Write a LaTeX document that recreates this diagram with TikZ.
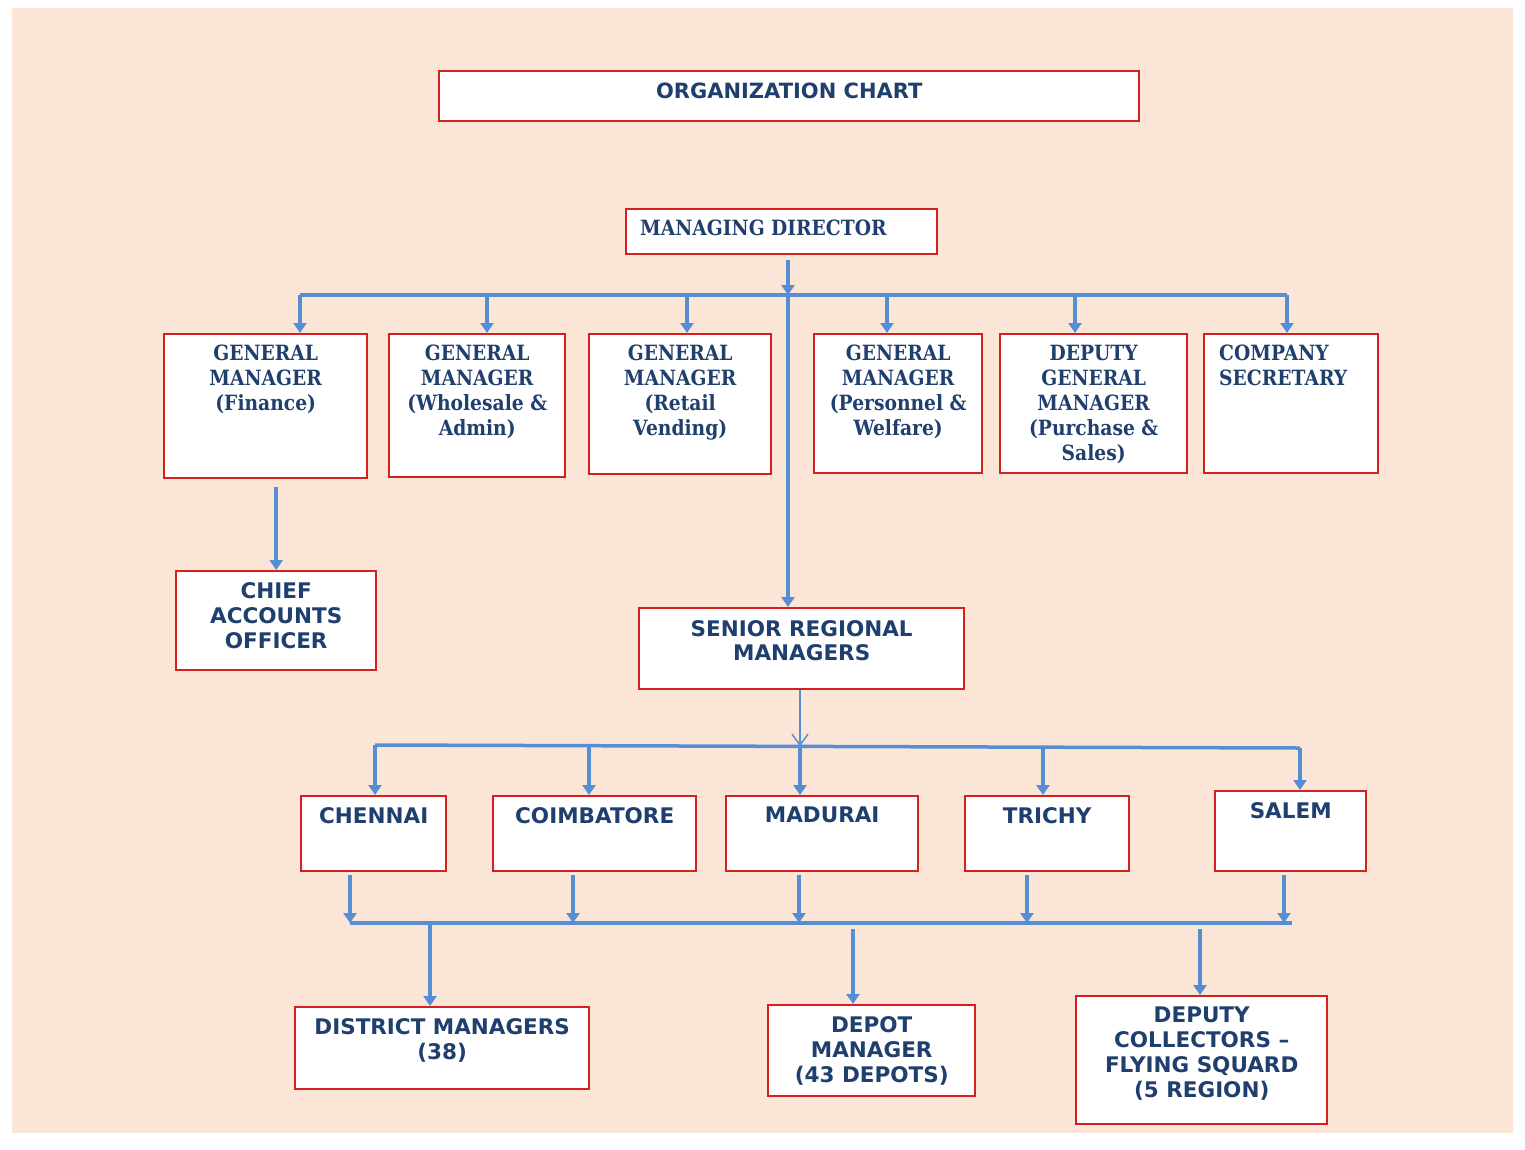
\documentclass[tikz,border=0pt]{standalone}
\usepackage{fontspec}
\newfontfamily\sansb{DejaVu Sans}
\newfontfamily\serifb{DejaVu Serif}[FakeStretch=0.89]
\usetikzlibrary{arrows.meta}
\definecolor{bg}{HTML}{FBE5D6}
\definecolor{boxred}{HTML}{D62020}
\definecolor{txtblue}{HTML}{1F3F6E}
\definecolor{lineblue}{HTML}{558ED5}
\begin{document}
\begin{tikzpicture}[x=1pt,y=-1pt,
  box/.style={draw=boxred, line width=2.4pt, fill=white, inner sep=0pt, anchor=north west},
  sertxt/.style={font=\serifb\bfseries\fontsize{21}{25}\selectfont, text=txtblue, align=center, inner sep=0pt, anchor=north},
  santxt/.style={font=\sansb\bfseries\fontsize{21.5}{25}\selectfont, text=txtblue, align=center, inner sep=0pt, anchor=north},
  bus/.style={draw=lineblue, line width=3.5pt},
  arr/.style={draw=lineblue, line width=3.5pt, -{Triangle[width=13pt,length=10pt]}},
  thinarr/.style={draw=lineblue, line width=1.5pt, -{Straight Barb[width=16pt,length=11pt,line width=1.5pt]}}]
\useasboundingbox (0,0) rectangle (1525,1149);
\fill[white] (0,0) rectangle (1525,1149);
\fill[bg] (12,8) rectangle (1513,1133);

% boxes
\node[box, minimum width=700pt, minimum height=50pt] (title) at (438,70) {};
\node[box, minimum width=311pt, minimum height=45pt] (md) at (625,208) {};
\node[box, minimum width=203pt, minimum height=144pt] (fin) at (163,333) {};
\node[box, minimum width=176pt, minimum height=143pt] (whl) at (388,333) {};
\node[box, minimum width=182pt, minimum height=140pt] (ret) at (588,333) {};
\node[box, minimum width=168pt, minimum height=139pt] (per) at (813,333) {};
\node[box, minimum width=187pt, minimum height=139pt] (dgm) at (999,333) {};
\node[box, minimum width=174pt, minimum height=139pt] (cs) at (1203,333) {};
\node[box, minimum width=200pt, minimum height=99pt] (cao) at (175,570) {};
\node[box, minimum width=325pt, minimum height=81pt] (srm) at (638,607) {};
\node[box, minimum width=145pt, minimum height=75pt] (che) at (300,795) {};
\node[box, minimum width=203pt, minimum height=75pt] (coi) at (492,795) {};
\node[box, minimum width=192pt, minimum height=75pt] (mad) at (725,795) {};
\node[box, minimum width=164pt, minimum height=75pt] (tri) at (964,795) {};
\node[box, minimum width=151pt, minimum height=80pt] (sal) at (1214,790) {};
\node[box, minimum width=294pt, minimum height=82pt] (dis) at (294,1006) {};
\node[box, minimum width=207pt, minimum height=91pt] (dep) at (767,1004) {};
\node[box, minimum width=251pt, minimum height=128pt] (dco) at (1075,995) {};

% texts
\node[santxt, font=\sansb\bfseries\fontsize{21}{24}\selectfont] (title-t) at ([yshift=-13pt]title.north) {ORGANIZATION CHART};
\node[sertxt, anchor=north west, align=left] (md-t) at ([xshift=15pt,yshift=-12pt]md.north west) {MANAGING DIRECTOR};
\node[sertxt] (fin-t) at ([yshift=-12pt]fin.north) {GENERAL\\MANAGER\\(Finance)};
\node[sertxt] (whl-t) at ([yshift=-12pt]whl.north) {GENERAL\\MANAGER\\(Wholesale \&\\Admin)};
\node[sertxt] (ret-t) at ([yshift=-12pt]ret.north) {GENERAL\\MANAGER\\(Retail\\Vending)};
\node[sertxt] (per-t) at ([yshift=-12pt]per.north) {GENERAL\\MANAGER\\(Personnel \&\\Welfare)};
\node[sertxt] (dgm-t) at ([yshift=-12pt]dgm.north) {DEPUTY\\GENERAL\\MANAGER\\(Purchase \&\\Sales)};
\node[sertxt, anchor=north west, align=left] (cs-t) at ([xshift=16pt,yshift=-12pt]cs.north west) {COMPANY\\SECRETARY};
\node[santxt] (cao-t) at ([yshift=-12pt]cao.north) {CHIEF\\ACCOUNTS\\OFFICER};
\node[santxt, font=\sansb\bfseries\fontsize{21.5}{24}\selectfont] (srm-t) at ([yshift=-13pt]srm.north) {SENIOR REGIONAL\\MANAGERS};
\node[santxt] (che-t) at ([yshift=-12pt]che.north) {CHENNAI};
\node[santxt] (coi-t) at ([yshift=-12pt]coi.north) {COIMBATORE};
\node[santxt] (mad-t) at ([yshift=-12pt]mad.north) {MADURAI};
\node[santxt] (tri-t) at ([yshift=-12pt]tri.north) {TRICHY};
\node[santxt] (sal-t) at ([yshift=-12pt]sal.north) {SALEM};
\node[santxt] (dis-t) at ([yshift=-12pt]dis.north) {DISTRICT MANAGERS\\(38)};
\node[santxt] (dep-t) at ([yshift=-12pt]dep.north) {DEPOT\\MANAGER\\(43 DEPOTS)};
\node[santxt] (dco-t) at ([yshift=-12pt]dco.north) {DEPUTY\\COLLECTORS –\\FLYING SQUARD\\(5 REGION)};

% bus 1
\coordinate (mdc) at (788,295);
\coordinate (b1a) at (300,295);
\coordinate (b1b) at (487,295);
\coordinate (b1c) at (687,295);
\coordinate (b1d) at (887,295);
\coordinate (b1e) at (1075,295);
\coordinate (b1f) at (1287,295);
\draw[arr] ([yshift=-5pt]md.south -| mdc) -- (mdc);
\draw[bus] (b1a) -- (b1f);
\draw[arr] (b1a) -- (b1a |- fin.north);
\draw[arr] (b1b) -- (b1b |- whl.north);
\draw[arr] (b1c) -- (b1c |- ret.north);
\draw[arr] (b1d) -- (b1d |- per.north);
\draw[arr] (b1e) -- (b1e |- dgm.north);
\draw[arr] (b1f) -- (b1f |- cs.north);
\draw[arr] (mdc) -- (mdc |- srm.north);
\draw[arr] ([yshift=-8pt]fin.south -| cao.north) -- (cao.north);

% bus 2
\coordinate (b2a) at (375,745);
\coordinate (b2b) at (589,745.7);
\coordinate (b2c) at (800,746.4);
\coordinate (b2d) at (1043,747.2);
\coordinate (b2e) at (1300,748);
\draw[thinarr] (srm.south -| b2c) -- (b2c);
\draw[bus] (b2a) -- (b2e);
\draw[arr] (b2a) -- (b2a |- che.north);
\draw[arr] (b2b) -- (b2b |- coi.north);
\draw[arr] (b2c) -- (b2c |- mad.north);
\draw[arr] (b2d) -- (b2d |- tri.north);
\draw[arr] (b2e) -- (b2e |- sal.north);

% bus 3
\coordinate (b3a) at (350,923);
\coordinate (b3b) at (573,923);
\coordinate (b3c) at (799,923);
\coordinate (b3d) at (1027,923);
\coordinate (b3e) at (1284,923);
\coordinate (b3r) at (1292,923);
\coordinate (b3x) at (430,923);
\coordinate (b3y) at (853,929);
\coordinate (b3z) at (1200,929);
\draw[bus] (b3a) -- (b3r);
\draw[arr] ([yshift=-3pt]che.south -| b3a) -- (b3a);
\draw[arr] ([yshift=-3pt]coi.south -| b3b) -- (b3b);
\draw[arr] ([yshift=-3pt]mad.south -| b3c) -- (b3c);
\draw[arr] ([yshift=-3pt]tri.south -| b3d) -- (b3d);
\draw[arr] ([yshift=-3pt]sal.south -| b3e) -- (b3e);
\draw[arr] (b3x) -- (b3x |- dis.north);
\draw[arr] (b3y) -- (b3y |- dep.north);
\draw[arr] (b3z) -- (b3z |- dco.north);
\end{tikzpicture}
\end{document}
